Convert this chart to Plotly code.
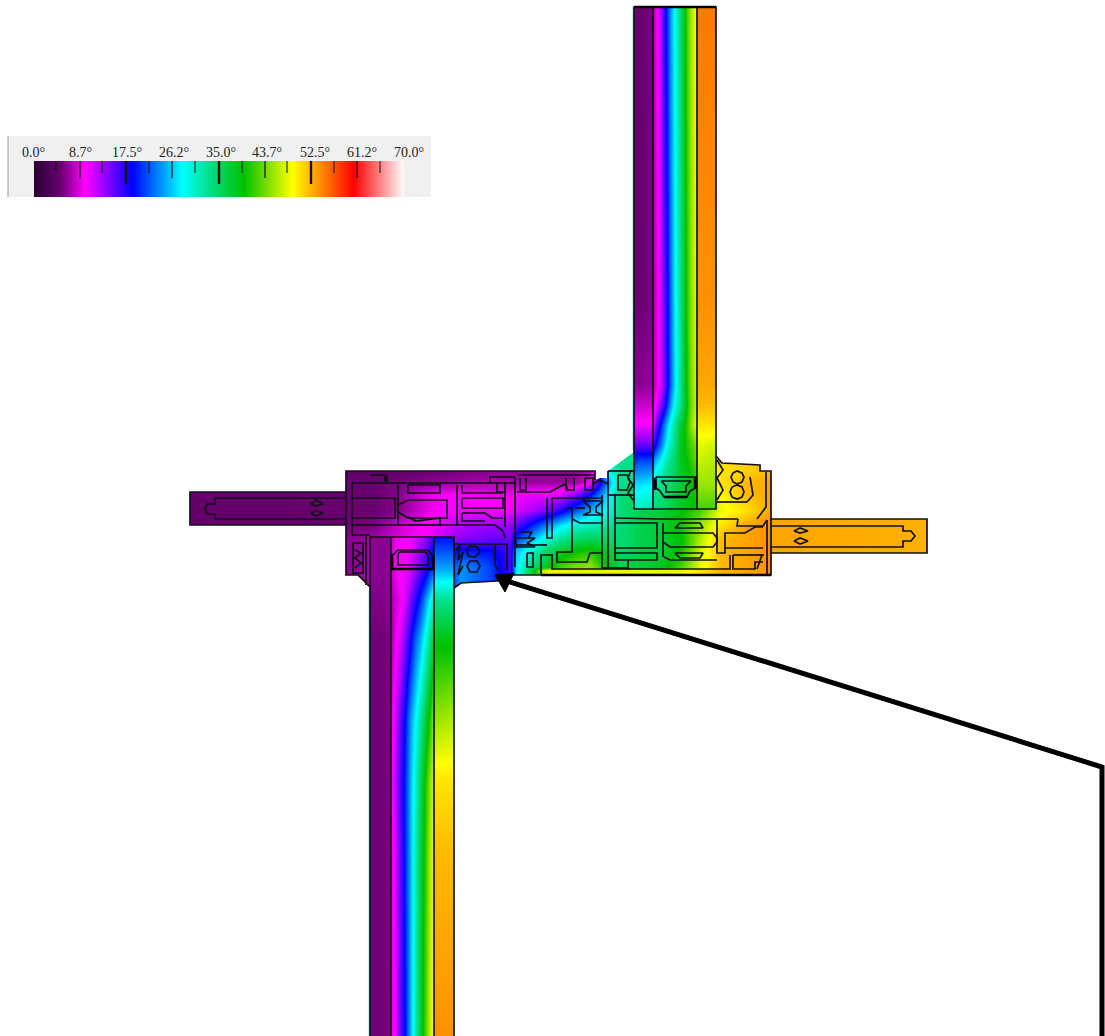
import plotly.graph_objects as go

# ---------- temperature scale ----------
T_MIN, T_MAX = 0, 70
SCALE_T = [0, 5, 9.6, 18.5, 28, 33, 39.6, 48.8, 54, 60.4, 70]
SCALE_C = ["#2a0035", "#6a0070", "#ff00ff", "#0000ff", "#00ffff", "#00e08c",
           "#00c000", "#ffff00", "#ff9000", "#ff0000", "#ffffff"]
LEGEND_LABELS = ["0.0°", "8.7°", "17.5°", "26.2°", "35.0°", "43.7°", "52.5°", "61.2°", "70.0°"]
LEGEND_LABEL_X = [33, 80, 127, 174, 221, 267, 315, 362, 409]
LEGEND_MINOR_X = [56, 102, 149, 195, 242, 287, 334, 380]
LEGEND_MID_X = [80, 172, 265, 357]
LEGEND_MAJOR_X = [126, 219, 311]

# ---------- upper glazing field ----------
U_X = [634, 640, 653, 654, 657, 661, 665, 670, 675, 680, 685, 690, 696, 697, 716]
U_Y = [7, 300, 385, 405, 425, 445, 460, 485, 509]
U_Z = [
    [5, 5, 5.5, 7.5, 9.6, 13, 18, 24, 29, 34, 40, 45, 49, 55, 55],
    [5, 5, 5.5, 7, 9, 12, 16, 22, 28, 33, 39, 44, 48, 54, 54],
    [6, 6, 6.5, 7.5, 9, 11.5, 15.5, 21.5, 27.5, 32.5, 38.5, 43.5, 47.5, 53, 53],
    [8, 8, 8, 9, 11, 14, 18, 24, 29, 33, 38, 43, 47, 52, 52],
    [10, 10, 10, 12, 16, 20, 24, 29, 33, 37, 40, 44, 48, 50, 50],
    [15, 15, 15, 17, 20, 23, 27, 31, 34, 38, 40, 42, 44, 48, 47],
    [20, 21, 21, 24, 26, 28, 31, 33, 35, 38, 39, 41, 43, 47, 46],
    [27, 27, 28, 32, 33, 33, 34, 35, 36, 37, 38, 39, 41, 45, 45],
    [31, 31, 32, 34, 34, 35, 35, 36, 37, 38, 38, 39, 40, 42, 42],
]

# ---------- lower glazing field ----------
L_X = [370, 391, 392, 395, 400, 405, 410, 415, 420, 425, 430, 433, 434, 454]
L_Y = [537, 570, 600, 640, 720, 780, 850, 1036]
L_Z = [
    [6, 6, 8, 9, 10, 10, 10, 11, 12, 13, 15, 17, 19, 19],
    [6, 6, 8, 9, 10, 10, 11, 13, 15, 17, 20, 22, 25, 25],
    [5.5, 6, 7, 8, 9, 11, 14, 17, 20, 24, 28, 31, 33, 33],
    [5, 5.5, 7, 9, 11, 14, 18, 22, 25, 29, 34, 37, 39, 39],
    [5, 5.5, 9, 11, 15, 19, 24, 28, 32, 37, 41, 45, 45, 46],
    [5, 5.5, 10, 12, 16, 20, 25, 30, 35, 40, 45, 47, 50, 50],
    [5, 5.5, 9, 11, 15, 20, 25, 31, 36, 41, 46, 48, 52, 52],
    [5, 5.5, 9, 10, 15, 19, 25, 31, 37, 42, 47, 49, 54, 54],
]

# ---------- frame node field ----------
N_X = [346, 375, 400, 430, 460, 490, 510, 516, 530, 545, 560, 575, 590, 605, 620,
       640, 660, 680, 700, 720, 745, 771]
N_Y = [450, 471, 482, 495, 510, 525, 540, 552, 567, 570, 590]
N_Z = [
    [4, 4, 4.5, 5, 5.5, 6, 6, 6, 6, 6, 6, 6, 7, 28, 33, 33, 36, 40, 45, 50, 51, 52],
    [4, 4, 4.5, 5, 5.5, 6, 6, 6, 6, 6, 6, 6, 7, 28, 33, 33, 36, 40, 45, 50, 51, 52],
    [5, 5, 5.5, 6, 6.5, 7, 7, 6.5, 6.5, 6.5, 6.5, 6.5, 9, 22, 33, 33, 36, 40, 45, 50, 52, 53],
    [5, 5, 6, 9, 10, 9, 9, 10, 10.5, 10.5, 11, 14, 19, 26, 34, 35, 37, 40, 44, 49, 52, 53],
    [5, 5, 6, 9, 10, 10, 10, 11, 12, 14, 17, 21, 25, 28, 34, 36, 37, 39, 42, 48, 50, 53],
    [5, 5.5, 8, 10, 12, 13, 13, 15, 19, 23, 27, 30, 31, 32, 34, 36, 37, 40, 45, 50, 53, 54],
    [6, 7, 9, 10, 14, 15, 15, 21, 25, 30, 33, 35, 36, 35, 34, 36, 37, 39, 46, 52, 53, 54],
    [6, 7, 9, 11, 20, 19, 16, 26, 30, 35, 38, 40, 41, 38, 35, 36, 37, 40, 47, 52, 53, 54],
    [6, 7, 9, 11, 24, 21, 16, 27, 34, 38, 42, 44, 45, 40, 36, 37, 38, 42, 48, 52, 53, 54],
    [6, 7, 9, 11, 24, 21, 16, 27, 36, 48, 48, 48, 48, 48, 48, 48, 48, 48, 50, 52, 53, 54],
    [6, 7, 9, 11, 24, 21, 16, 27, 36, 48, 48, 48, 48, 48, 48, 48, 48, 48, 50, 52, 53, 54],
]

# ---------- mullion arm temperatures ----------
ARM_LEFT_X = [190, 346]
ARM_LEFT_Y = [492, 525]
ARM_LEFT_Z = [[4.6, 4.8], [4.6, 4.8]]
ARM_RIGHT_X = [771, 927]
ARM_RIGHT_Y = [519, 553]
ARM_RIGHT_Z = [[53, 52.5], [53, 52.5]]

# ---------- white cut-outs around the frame (scatter always sits above heatmaps) ----------
MASKS = [
    [(340, 445), (634, 445), (634, 452), (608, 471), (608, 478), (600, 478), (595, 480), (595, 471), (340, 471)],
    [(716, 445), (775, 445), (775, 471), (760, 471), (760, 465), (722, 463), (716, 456)],
    [(340, 575), (358, 575), (370, 587), (370, 595), (340, 595)],
    [(454, 588), (461, 583), (497, 581), (510, 575), (775, 575), (775, 595), (454, 595)],
]

# ---------- section outlines ----------
OUTLINES = [
    # upper glazing
    [(634, 509), (634, 7), (716, 7), (716, 509), (634, 509)],
    [(653, 7), (653, 509)], [(697, 7), (697, 509)],
    [(656, 477), (696, 477), (696, 488), (690, 491), (687, 497), (664, 497), (660, 491), (656, 488), (656, 477)],
    [(661, 481), (691, 481), (686, 486), (686, 492), (666, 492), (666, 486), (661, 481)],
    # lower glazing
    [(370, 1036), (370, 537), (454, 537), (454, 1036)],
    [(391, 537), (391, 1036)], [(434, 537), (434, 1036)],
    [(392, 569), (392, 556), (398, 550), (428, 550), (433, 556), (433, 569), (392, 569)],
    [(398, 554), (400, 552), (426, 552), (428, 556), (428, 565), (398, 565), (398, 554)],
    # left frame
    [(370, 587), (358, 575), (346, 575), (346, 471), (595, 471), (595, 480)],
    [(454, 588), (461, 583), (497, 581), (510, 575), (541, 575)],
    [(352, 535), (352, 483), (385, 483), (385, 475), (370, 475)],
    [(352, 498), (395, 498), (395, 518), (352, 518)],
    [(352, 525), (495, 525), (503, 531), (505, 538)],
    [(352, 535), (370, 535)], [(387, 475), (387, 483), (515, 483)],
    [(398, 485), (398, 525)], [(457, 485), (457, 525)],
    [(515, 478), (515, 567)], [(490, 483), (490, 477), (515, 477)],
    [(505, 483), (505, 527)], [(497, 483), (497, 492), (505, 492)],
    [(398, 505), (408, 500), (447, 500), (447, 518), (408, 518), (398, 512)],
    [(408, 485), (440, 485), (440, 493), (408, 493), (408, 485)],
    [(408, 517), (416, 521), (440, 518), (440, 525), (408, 525)],
    [(462, 485), (462, 493), (503, 493)], [(462, 498), (503, 498), (503, 508), (462, 508), (462, 498)],
    [(462, 513), (485, 513), (492, 518), (503, 518)], [(462, 513), (462, 521), (485, 521)],
    [(454, 544), (507, 544), (507, 570)],
    [(495, 545), (495, 565), (498, 570)],
    [(353, 543), (363, 543), (363, 573), (353, 573), (353, 543)],
    [(355, 550), (361, 553), (355, 558), (361, 563), (355, 568)],
    [(366, 535), (366, 585)],
    [(456, 550), (460, 545), (458, 560), (463, 552), (458, 575), (463, 566)],
    [(467, 549), (470, 546), (477, 547), (480, 552), (475, 557), (468, 556), (467, 549)],
    [(467, 566), (470, 561), (477, 561), (480, 566), (477, 572), (470, 572), (467, 566)],
    # middle pieces
    [(517, 475), (595, 475)],
    [(520, 478), (520, 490), (526, 490), (526, 478)], [(566, 478), (566, 490), (574, 490), (574, 478)],
    [(517, 492), (550, 492), (565, 484), (568, 490)],
    [(547, 498), (547, 538), (552, 538), (552, 498), (602, 498)],
    [(567, 508), (572, 508), (572, 552), (557, 552), (557, 562), (587, 562), (590, 553), (602, 553)],
    [(572, 519), (580, 523), (602, 523)], [(575, 508), (585, 508)],
    [(541, 575), (541, 555), (552, 555), (552, 569), (628, 569), (628, 560)],
    [(585, 478), (593, 478), (593, 490), (585, 490), (585, 478)],
    [(593, 484), (600, 480), (608, 484)],
    [(583, 501), (603, 501), (596, 507), (596, 512), (603, 515), (583, 515), (590, 512), (590, 507), (583, 501)],
    [(515, 538), (535, 538), (527, 543), (535, 547), (517, 547), (515, 538)],
    [(520, 532), (532, 532), (528, 538)],
    [(527, 553), (533, 553), (533, 567), (527, 567), (527, 553)],
    [(515, 545), (547, 545)],
    # right frame
    [(541, 575), (771, 575), (771, 471), (760, 471), (760, 465), (722, 463), (716, 456)],
    [(608, 471), (634, 471)], [(608, 471), (608, 568)], [(602, 495), (602, 568)],
    [(602, 568), (628, 568)], [(615, 495), (615, 560), (628, 560), (657, 560), (657, 553), (615, 553)],
    [(608, 495), (634, 495)],
    [(615, 518), (660, 519), (738, 519)],
    [(615, 523), (657, 523), (657, 548), (615, 548)],
    [(618, 475), (627, 475), (630, 482), (627, 490), (618, 490), (618, 475)],
    [(631, 470), (628, 478), (633, 485), (628, 493), (633, 500)],
    [(663, 523), (663, 557)],
    [(663, 533), (670, 533), (713, 533), (717, 538), (717, 542), (713, 547), (670, 547), (663, 542)],
    [(675, 528), (680, 523), (700, 523), (703, 528), (680, 528), (675, 528)],
    [(675, 553), (680, 553), (703, 553), (700, 558), (680, 558), (675, 553)],
    [(664, 557), (670, 560), (717, 560)],
    [(717, 520), (717, 553), (725, 553), (725, 533), (745, 533), (755, 527), (763, 527)],
    [(738, 519), (737, 526), (763, 526), (767, 520)],
    [(725, 548), (763, 548)], [(767, 520), (767, 575)],
    [(730, 555), (730, 569), (628, 569)],
    [(733, 555), (764, 555)], [(733, 555), (733, 569), (755, 569), (755, 562), (763, 562)],
    [(757, 569), (762, 555)],
    [(717, 460), (723, 470), (717, 478), (723, 490), (717, 500)],
    [(717, 502), (747, 502)], [(766, 472), (766, 507), (757, 519)],
    [(750, 477), (753, 495), (747, 502)],
    [(733, 473), (737, 471), (742, 473), (744, 477), (742, 482), (737, 484), (733, 482), (731, 477), (733, 473)],
    [(732, 487), (737, 485), (742, 487), (744, 492), (742, 497), (737, 499), (732, 497), (730, 492), (732, 487)],
    # left arm
    [(346, 492), (190, 492), (190, 525), (346, 525)],
    [(346, 498), (215, 498), (215, 504), (207, 504), (205, 509), (207, 514), (215, 514), (215, 519), (346, 519)],
    [(311, 504), (316, 500), (323, 504), (316, 506), (311, 504)],
    [(311, 513), (316, 511), (323, 513), (316, 516), (311, 513)],
    # right arm
    [(771, 519), (927, 519), (927, 553), (771, 553)],
    [(771, 526), (903, 526), (903, 531), (911, 531), (915, 536), (911, 541), (903, 541), (903, 547), (771, 547)],
    [(794, 531), (800, 528), (808, 531), (800, 533), (794, 531)],
    [(794, 541), (800, 538), (808, 541), (800, 544), (794, 541)],
]
HEAVY_OUTLINES = [
    [(655, 478), (655, 490)], [(695, 478), (695, 488)], [(664, 497), (687, 497)],
    [(392, 557), (392, 569), (433, 569), (433, 557)],
    [(541, 575), (771, 575)], [(634, 7), (716, 7)],
]
FRINGES = [
    [(633, 7), (633, 450)],
    [(369, 590), (369, 1036)],
]

# ---------- pointer ----------
POINTER_LINE = [(1102, 1036), (1102, 767), (507, 581)]
POINTER_HEAD = [(495, 575), (514, 573), (505, 592)]


def xy(points):
    return [p[0] for p in points], [p[1] for p in points]


def joined(paths):
    xs, ys = [], []
    for path in paths:
        a, b = xy(path)
        xs += a + [None]
        ys += b + [None]
    return xs, ys


def field(xs, ys, zs):
    # hairline extra nodes make the field stop exactly on its first and last node
    px = [xs[0], xs[0] + 0.01] + xs[1:-1] + [xs[-1] - 0.01, xs[-1]]
    py = [ys[0], ys[0] + 0.01] + ys[1:-1] + [ys[-1] - 0.01, ys[-1]]
    rows = [[r[0]] + r + [r[-1]] for r in zs]
    rows = [rows[0]] + rows + [rows[-1]]
    return go.Heatmap(x=px, y=py, z=rows, zmin=T_MIN, zmax=T_MAX, zsmooth="best",
                      colorscale=colorscale, showscale=False, hoverinfo="skip")


colorscale = [[t / T_MAX, c] for t, c in zip(SCALE_T, SCALE_C)]
fig = go.Figure()

# legend panel
fig.add_shape(type="rect", x0=8, x1=431, y0=136, y1=197, fillcolor="#f0f0f0", line_width=0, layer="below")
fig.add_shape(type="line", x0=8, x1=8, y0=136, y1=197, line=dict(color="#9a9a9a", width=1), layer="below")
fig.add_trace(field([34, 404], [161, 197], [[T_MIN, T_MAX], [T_MIN, T_MAX]]))

# frame field and its cut-outs, glazing, arms
fig.add_trace(field(N_X, N_Y, N_Z))
mx, my = joined(MASKS)
fig.add_trace(go.Scatter(x=mx, y=my, mode="lines", fill="toself", fillcolor="#ffffff",
                         line=dict(width=0, color="#ffffff"), hoverinfo="skip"))
fig.add_trace(field(U_X, U_Y, U_Z))
fig.add_trace(field(L_X, L_Y, L_Z))
fig.add_trace(field(ARM_LEFT_X, ARM_LEFT_Y, ARM_LEFT_Z))
fig.add_trace(field(ARM_RIGHT_X, ARM_RIGHT_Y, ARM_RIGHT_Z))

fx, fy = joined(FRINGES)
fig.add_trace(go.Scatter(x=fx, y=fy, mode="lines", line=dict(color="#8fe6ee", width=1.2), hoverinfo="skip"))
ox, oy = joined(OUTLINES)
fig.add_trace(go.Scatter(x=ox, y=oy, mode="lines", line=dict(color="#101018", width=1.7), hoverinfo="skip"))
hx, hy = joined(HEAVY_OUTLINES)
fig.add_trace(go.Scatter(x=hx, y=hy, mode="lines", line=dict(color="#000000", width=2.6), hoverinfo="skip"))

# pointer
px_, py_ = xy(POINTER_LINE)
fig.add_trace(go.Scatter(x=px_, y=py_, mode="lines", line=dict(color="#000000", width=5), hoverinfo="skip"))
hx_, hy_ = xy(POINTER_HEAD + POINTER_HEAD[:1])
fig.add_trace(go.Scatter(x=hx_, y=hy_, mode="lines", fill="toself", fillcolor="#000000",
                         line=dict(color="#000000", width=1), hoverinfo="skip"))

# legend ticks and labels
for tick_x, y_end, w in ([(x, 173, 1) for x in LEGEND_MINOR_X] + [(x, 178, 1.2) for x in LEGEND_MID_X]
                         + [(x, 184, 2.4) for x in LEGEND_MAJOR_X]):
    fig.add_shape(type="line", x0=tick_x, x1=tick_x, y0=161, y1=y_end, line=dict(color="#101010", width=w))
for label, lx in zip(LEGEND_LABELS, LEGEND_LABEL_X):
    fig.add_annotation(x=lx, y=152, text=label, showarrow=False, xanchor="center", yanchor="middle",
                       font=dict(family="Liberation Serif", size=14, color="#222222"))

fig.update_xaxes(range=[0, 1105], visible=False, fixedrange=True)
fig.update_yaxes(range=[1036, 0], visible=False, fixedrange=True)
fig.update_layout(width=1105, height=1036, margin=dict(l=0, r=0, t=0, b=0), showlegend=False,
                  paper_bgcolor="#ffffff", plot_bgcolor="#ffffff")
fig.write_html("out.html", config=dict(displayModeBar=False),
               post_script="document.body.style.margin='0';document.body.style.overflow='hidden';")
